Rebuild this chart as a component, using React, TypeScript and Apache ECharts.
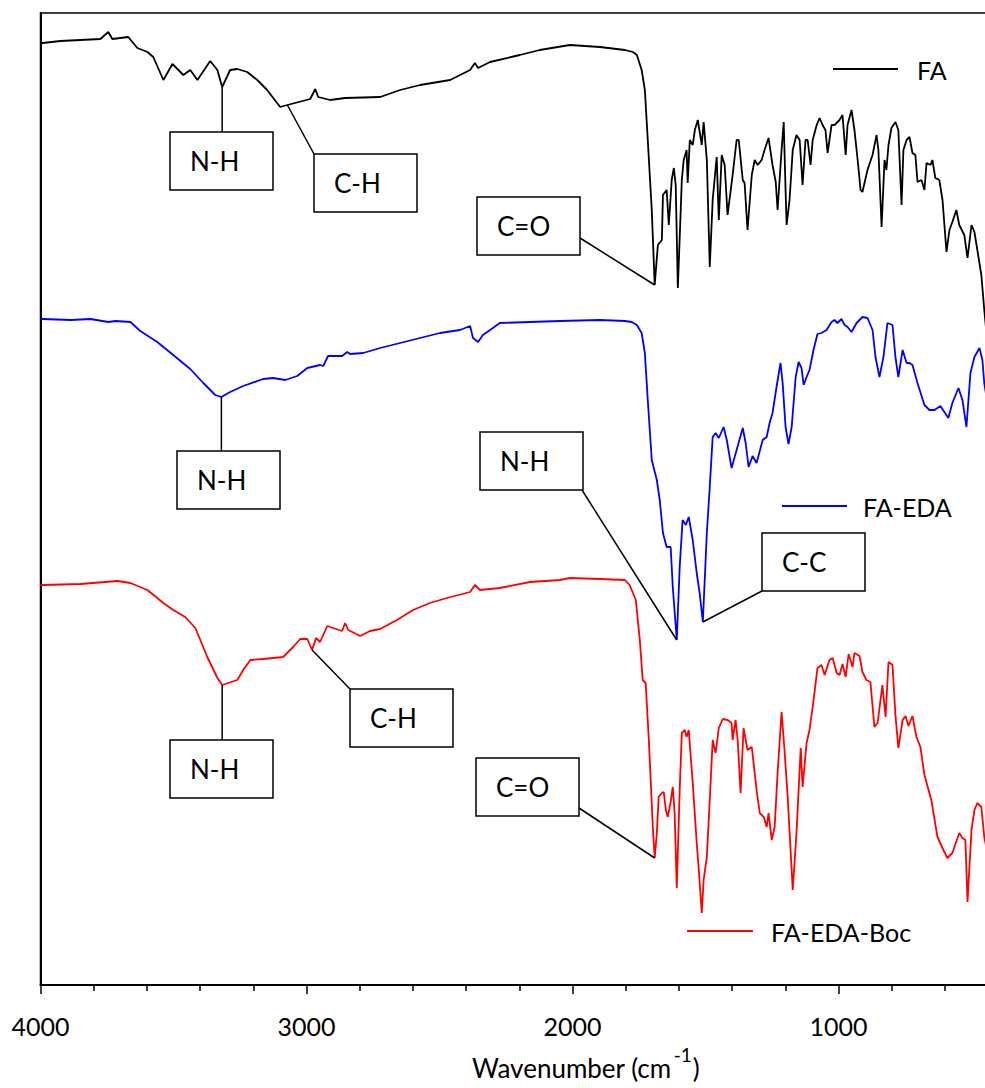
import { useEffect, useRef } from 'react';
import * as echarts from 'echarts';

const FONT = 'Lato, "Open Sans", "DejaVu Sans", sans-serif';

// FTIR spectra: [wavenumber (cm-1), offset transmittance (a.u.)]
const faSpectrum = [
  [4000, 940], [3992, 940], [3925, 942], [3850, 943], [3775, 944], [3745, 951], [3730, 944], [3670, 946],
  [3636, 935], [3598, 931], [3576, 926], [3538, 903], [3504, 919], [3463, 908], [3437, 913], [3410, 903],
  [3362, 922], [3335, 913], [3317, 896], [3287, 913], [3260, 914], [3223, 911], [3185, 903], [3148, 893],
  [3099, 876], [3072, 878], [2986, 884], [2967, 894], [2956, 886], [2911, 883], [2855, 885], [2723, 886],
  [2648, 893], [2573, 898], [2460, 903], [2385, 913], [2367, 920], [2355, 915], [2310, 921], [2198, 928],
  [2123, 933], [2010, 938], [1897, 936], [1803, 933], [1773, 931], [1758, 928], [1740, 913], [1728, 893],
  [1717, 843], [1702, 773], [1691, 698], [1679, 738], [1664, 743], [1660, 788], [1646, 793], [1638, 758],
  [1627, 803], [1619, 815], [1612, 798], [1604, 695], [1589, 803], [1582, 823], [1571, 833], [1567, 800],
  [1559, 843], [1548, 838], [1540, 853], [1529, 863], [1514, 838], [1507, 861], [1495, 823], [1484, 716],
  [1473, 783], [1458, 826], [1450, 763], [1439, 828], [1428, 818], [1417, 768], [1398, 808], [1383, 843],
  [1375, 843], [1360, 803], [1353, 800], [1342, 753], [1326, 808], [1315, 823], [1304, 818], [1289, 823],
  [1278, 833], [1263, 845], [1248, 818], [1236, 801], [1229, 773], [1214, 833], [1206, 861], [1199, 793],
  [1195, 758], [1184, 783], [1172, 833], [1158, 848], [1146, 843], [1135, 798], [1124, 843], [1116, 843],
  [1105, 818], [1097, 843], [1082, 858], [1071, 865], [1060, 858], [1049, 853], [1041, 830], [1026, 858],
  [1015, 858], [996, 863], [985, 868], [973, 828], [966, 858], [951, 873], [940, 853], [928, 823],
  [917, 793], [910, 791], [891, 813], [872, 828], [857, 848], [850, 833], [838, 756], [827, 823],
  [820, 813], [812, 838], [801, 855], [786, 861], [775, 853], [763, 778], [756, 833], [744, 843],
  [733, 846], [722, 830], [711, 828], [703, 801], [688, 803], [677, 793], [669, 820], [654, 818],
  [647, 823], [636, 805], [621, 803], [609, 783], [594, 731], [583, 753], [572, 761], [557, 773],
  [546, 758], [527, 748], [515, 725], [500, 758], [489, 751], [478, 733], [463, 708], [452, 673],
  [440, 640],
];

const faEdaSpectrum = [
  [4000, 664], [3992, 664], [3887, 663], [3812, 664], [3745, 661], [3718, 662], [3662, 661], [3625, 652],
  [3561, 641], [3501, 628], [3437, 614], [3388, 600], [3343, 588], [3320, 586], [3287, 591], [3238, 597],
  [3163, 604], [3125, 605], [3080, 603], [3035, 607], [2997, 615], [2949, 618], [2937, 617], [2919, 627],
  [2866, 627], [2847, 631], [2836, 629], [2787, 630], [2723, 635], [2648, 640], [2573, 645], [2498, 650],
  [2423, 653], [2385, 657], [2374, 645], [2355, 641], [2337, 648], [2310, 653], [2273, 660], [2160, 661],
  [2047, 662], [1897, 663], [1803, 662], [1777, 661], [1758, 658], [1740, 650], [1728, 630], [1717, 583],
  [1702, 523], [1683, 503], [1672, 483], [1660, 450], [1646, 436], [1631, 436], [1623, 396], [1608, 343],
  [1597, 416], [1586, 463], [1574, 458], [1563, 466], [1548, 443], [1533, 410], [1522, 390], [1510, 361],
  [1495, 450], [1484, 496], [1473, 546], [1462, 550], [1450, 545], [1432, 556], [1420, 543], [1402, 515],
  [1383, 533], [1360, 555], [1349, 540], [1338, 516], [1323, 527], [1308, 520], [1285, 543], [1270, 546],
  [1259, 560], [1248, 570], [1233, 596], [1218, 620], [1210, 600], [1199, 556], [1188, 539], [1176, 556],
  [1161, 606], [1150, 621], [1139, 615], [1131, 598], [1120, 606], [1109, 613], [1094, 633], [1079, 649],
  [1064, 650], [1045, 653], [1026, 661], [1015, 663], [1004, 660], [989, 664], [977, 658], [966, 656],
  [951, 651], [932, 660], [910, 666], [891, 665], [872, 653], [861, 626], [846, 606], [831, 626],
  [816, 660], [797, 658], [786, 626], [775, 606], [759, 633], [744, 620], [733, 620], [722, 618],
  [703, 600], [677, 578], [658, 573], [639, 573], [617, 577], [602, 571], [587, 565], [572, 580],
  [549, 595], [534, 583], [519, 556], [504, 610], [489, 626], [470, 635], [459, 623], [452, 600],
  [440, 580],
];

const faEdaBocSpectrum = [
  [4000, 398], [3992, 398], [3850, 399], [3711, 402], [3662, 400], [3598, 393], [3538, 380], [3501, 373],
  [3456, 366], [3418, 355], [3373, 326], [3335, 305], [3317, 298], [3260, 303], [3238, 313], [3211, 323],
  [3163, 324], [3088, 326], [3050, 336], [3024, 344], [2997, 344], [2979, 333], [2964, 345], [2949, 341],
  [2922, 357], [2900, 355], [2866, 352], [2855, 360], [2843, 353], [2798, 347], [2761, 352], [2723, 354],
  [2660, 363], [2599, 373], [2536, 380], [2472, 385], [2385, 391], [2367, 398], [2348, 393], [2273, 395],
  [2160, 401], [2047, 403], [2010, 405], [1897, 404], [1803, 403], [1785, 398], [1762, 383], [1747, 343],
  [1736, 303], [1725, 300], [1713, 243], [1698, 156], [1691, 125], [1683, 150], [1676, 186], [1664, 190],
  [1657, 191], [1649, 173], [1642, 166], [1631, 181], [1623, 196], [1616, 170], [1608, 95], [1597, 193],
  [1589, 250], [1578, 253], [1571, 246], [1563, 253], [1548, 200], [1533, 140], [1526, 116], [1514, 70],
  [1507, 103], [1495, 126], [1484, 183], [1473, 243], [1462, 230], [1450, 255], [1435, 264], [1417, 263],
  [1402, 260], [1398, 243], [1387, 263], [1379, 243], [1368, 190], [1357, 255], [1342, 233], [1326, 236],
  [1308, 193], [1296, 170], [1281, 166], [1270, 156], [1263, 170], [1251, 143], [1240, 156], [1229, 210],
  [1214, 271], [1203, 233], [1191, 186], [1172, 93], [1158, 150], [1142, 235], [1135, 196], [1120, 240],
  [1109, 253], [1097, 276], [1079, 315], [1064, 318], [1052, 308], [1034, 323], [1022, 325], [1007, 310],
  [996, 308], [985, 319], [973, 306], [962, 329], [947, 316], [940, 330], [921, 327], [910, 311],
  [895, 303], [880, 301], [865, 256], [853, 260], [835, 298], [823, 266], [812, 321], [797, 318],
  [786, 268], [775, 235], [759, 263], [748, 267], [737, 257], [722, 267], [707, 246], [692, 236],
  [677, 208], [651, 183], [628, 146], [609, 135], [591, 125], [572, 130], [546, 150], [534, 145],
  [523, 143], [515, 81], [500, 153], [489, 173], [478, 180], [463, 176], [452, 146], [440, 130],
];

const seriesNames = ['FA', 'FA-EDA', 'FA-EDA-Boc'];
const seriesColors = ['#000000', '#0000ff', '#ff0000'];
const spectra = [faSpectrum, faEdaSpectrum, faEdaBocSpectrum];

// labelled wavenumber ticks
const xTickValues = [4000, 3000, 2000, 1000];

// band assignments: label, spectrum index, band position (cm-1)
const bandLabels = ['N-H', 'C-H', 'C=O', 'N-H', 'N-H', 'C-C', 'N-H', 'C-H', 'C=O'];
const bandSeries = [0, 0, 0, 1, 1, 1, 2, 2, 2];
const bandWavenumbers = [3317, 3072, 1691, 3320, 1608, 1510, 3317, 2979, 1691];

// callout boxes: top-left corner and the point where the leader meets the box
const BOX_W = 103;
const BOX_H = 58;
const boxLayout: { x: number; y: number; join: 'vertical' | [number, number] }[] = [
  { x: 170, y: 132, join: 'vertical' },
  { x: 314, y: 154, join: [314, 154] },
  { x: 477, y: 197, join: [580, 238] },
  { x: 177, y: 451, join: 'vertical' },
  { x: 480, y: 432, join: [582, 490] },
  { x: 762, y: 533, join: [762, 591] },
  { x: 170, y: 740, join: 'vertical' },
  { x: 350, y: 689, join: [350, 689] },
  { x: 476, y: 758, join: [579, 808] },
];

// legend entries placed beside each trace
const legendLayout = [
  { x1: 833, x2: 898, y: 69, tx: 917 },
  { x1: 782, x2: 847, y: 506, tx: 863 },
  { x1: 687, x2: 753, y: 931, tx: 771 },
];

function textWidth(text: string, size: number) {
  const ctx = document.createElement('canvas').getContext('2d');
  if (!ctx) return text.length * size * 0.5;
  ctx.font = `${size}px ${FONT}`;
  return ctx.measureText(text).width;
}

export default function App() {
  const ref = useRef<HTMLDivElement>(null);

  useEffect(() => {
    if (!ref.current) return;
    const chart = echarts.init(ref.current, undefined, { renderer: 'svg' });

    chart.setOption({
      animation: false,
      backgroundColor: '#ffffff',
      grid: {
        left: 40.5,
        top: 13,
        width: 1064,
        height: 972,
        show: true,
        borderColor: '#000',
        borderWidth: 1.5,
        backgroundColor: 'transparent',
      },
      xAxis: {
        type: 'value',
        min: 0,
        max: 4000,
        interval: 1000,
        inverse: true,
        axisLine: { show: true, onZero: false, lineStyle: { color: '#000', width: 2 } },
        axisTick: { show: true, length: 9, lineStyle: { color: '#000', width: 1.5 } },
        minorTick: { show: true, splitNumber: 5, length: 6, lineStyle: { color: '#000', width: 1.5 } },
        axisLabel: {
          fontSize: 25,
          fontFamily: FONT,
          color: '#000',
          margin: 28,
          formatter: (v: number) => (xTickValues.includes(v) ? String(v) : ''),
        },
        splitLine: { show: false },
      },
      yAxis: {
        type: 'value',
        min: -2,
        max: 970,
        axisLine: { show: true, onZero: false, lineStyle: { color: '#000', width: 2 } },
        axisTick: { show: false },
        axisLabel: { show: false },
        splitLine: { show: false },
      },
      series: spectra.map((data, i) => ({
        name: seriesNames[i],
        type: 'line',
        data,
        showSymbol: false,
        silent: true,
        clip: true,
        lineStyle: { color: seriesColors[i], width: 1.8 },
        itemStyle: { color: seriesColors[i] },
      })),
    });

    const graphics: any[] = [];

    bandLabels.forEach((label, i) => {
      const s = bandSeries[i];
      const point = spectra[s].find((p) => p[0] === bandWavenumbers[i]) as number[];
      const [ax, ay] = chart.convertToPixel({ seriesIndex: s }, point) as number[];
      const box = boxLayout[i];
      const [jx, jy] = box.join === 'vertical' ? [ax, box.y] : box.join;
      graphics.push({
        type: 'line',
        z: 10,
        shape: { x1: ax, y1: ay, x2: jx, y2: jy },
        style: { stroke: '#000', lineWidth: 1.5 },
      });
      graphics.push({
        type: 'rect',
        z: 11,
        shape: { x: box.x, y: box.y, width: BOX_W, height: BOX_H },
        style: { fill: '#fff', stroke: '#000', lineWidth: 1.5 },
      });
      graphics.push({
        type: 'text',
        z: 12,
        x: box.x + 20,
        y: box.y + BOX_H / 2,
        style: { text: label, fontSize: 26, fontFamily: FONT, fill: '#000', align: 'left', verticalAlign: 'middle' },
      });
    });

    legendLayout.forEach((l, i) => {
      graphics.push({
        type: 'line',
        z: 10,
        shape: { x1: l.x1, y1: l.y, x2: l.x2, y2: l.y },
        style: { stroke: seriesColors[i], lineWidth: 1.8 },
      });
      graphics.push({
        type: 'text',
        z: 10,
        x: l.tx,
        y: l.y + 1,
        style: { text: seriesNames[i], fontSize: 25, fontFamily: FONT, fill: '#000', align: 'left', verticalAlign: 'middle' },
      });
    });

    // axis title with superscript exponent
    const titleX = 472;
    const titleY = 1068;
    const w1 = textWidth('Wavenumber (cm', 26);
    const w2 = textWidth('-1', 19);
    graphics.push(
      {
        type: 'text',
        x: titleX,
        y: titleY,
        style: { text: 'Wavenumber (cm', fontSize: 26, fontFamily: FONT, fill: '#000', align: 'left', verticalAlign: 'middle' },
      },
      {
        type: 'text',
        x: titleX + w1 + 2,
        y: titleY - 14,
        style: { text: '-1', fontSize: 19, fontFamily: FONT, fill: '#000', align: 'left', verticalAlign: 'middle' },
      },
      {
        type: 'text',
        x: titleX + w1 + 3 + w2,
        y: titleY,
        style: { text: ')', fontSize: 26, fontFamily: FONT, fill: '#000', align: 'left', verticalAlign: 'middle' },
      }
    );

    chart.setOption({ graphic: { elements: graphics } });

    return () => chart.dispose();
  }, []);

  return (
    <div
      style={{
        position: 'fixed',
        left: 0,
        top: 0,
        width: 985,
        height: 1088,
        overflow: 'hidden',
        background: '#fff',
      }}
    >
      <div ref={ref} style={{ width: 1110, height: 1088 }} />
    </div>
  );
}
